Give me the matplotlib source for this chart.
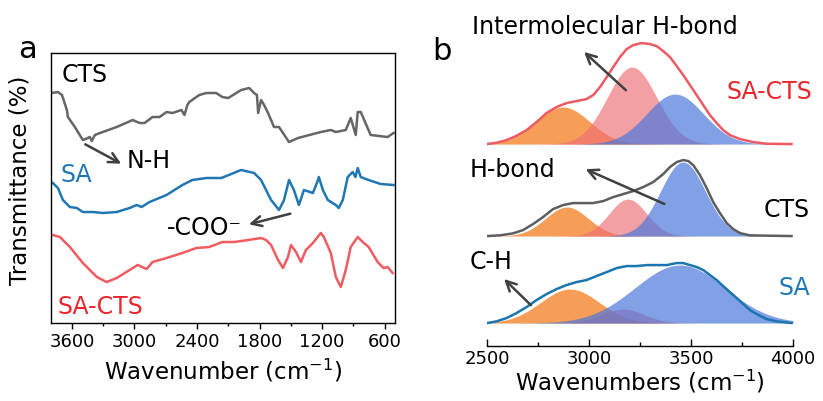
import matplotlib.pyplot as plt
import numpy as np
from matplotlib.ticker import MultipleLocator

plt.rcParams['font.family'] = ['DejaVu Sans']
plt.rcParams['mathtext.fontset'] = 'dejavusans'

# ---- panel a: FTIR spectra (wavenumber / transmittance, arbitrary units)
cts_wn = [3790, 3735, 3695, 3648, 3638, 3571, 3495, 3447, 3428, 3409,
          3380, 3330, 3170, 3017, 2950, 2903, 2826, 2759, 2692, 2635,
          2549, 2520, 2492, 2473, 2406, 2377, 2310, 2215, 2157, 2100,
          1976, 1899, 1852, 1825, 1813, 1785, 1756, 1718, 1661, 1613,
          1575, 1517, 1431, 1212, 1116, 1068, 973, 925, 877, 858,
          829, 734, 571, 514]
cts_t = [230, 231, 228, 213, 206, 196, 183, 185, 186, 182,
         188, 190, 196, 203, 200, 200, 206, 206, 211, 210,
         213, 208, 218, 221, 226, 228, 230, 230, 226, 225,
         233, 235, 230, 228, 210, 223, 218, 210, 196, 196,
         190, 181, 185, 191, 193, 191, 193, 205, 188, 211,
         211, 188, 186, 190]

sa_wn = [3782, 3734, 3686, 3619, 3552, 3495, 3399, 3304, 3170, 3046,
         2979, 2931, 2855, 2692, 2540, 2444, 2310, 2167, 1976, 1852,
         1785, 1737, 1689, 1613, 1565, 1517, 1470, 1422, 1374, 1288,
         1250, 1231, 1192, 1145, 1068, 1040, 1001, 954, 906, 880,
         858, 829, 753, 638, 514]
sa_t = [140, 135, 123, 116, 115, 111, 111, 110, 111, 115,
        118, 116, 121, 128, 138, 143, 145, 145, 153, 150,
        143, 133, 123, 113, 123, 143, 133, 118, 133, 130,
        140, 146, 133, 123, 118, 115, 123, 146, 151, 146,
        155, 146, 143, 139, 138]

sacts_wn = [3782, 3715, 3619, 3495, 3361, 3266, 3170, 3046, 2969, 2883,
            2826, 2692, 2540, 2406, 2282, 2157, 2043, 1909, 1785, 1737,
            1689, 1622, 1575, 1527, 1498, 1450, 1403, 1355, 1288, 1212,
            1183, 1116, 1068, 1020, 973, 925, 858, 810, 753, 667,
            610, 571, 523]
sacts_t = [88, 86, 76, 60, 46, 41, 45, 53, 58, 54,
           61, 65, 70, 75, 76, 81, 81, 83, 85, 83,
           78, 63, 55, 66, 78, 71, 61, 73, 80, 90,
           86, 70, 46, 36, 53, 76, 86, 81, 76, 61,
           55, 56, 50]

# ---- panel b: measured envelopes (height above each baseline)
b_sacts_wn = [2500, 2547, 2596, 2645, 2694, 2743, 2792, 2841, 2890, 2939,
              2988, 3021, 3054, 3087, 3119, 3152, 3185, 3217, 3258, 3299,
              3332, 3364, 3397, 3430, 3462, 3495, 3528, 3560, 3593, 3626,
              3658, 3691, 3740, 3805, 3871, 3993]
b_sacts_h = [0, 1.3, 4, 8.3, 14, 22, 31, 37, 41, 43,
             45, 49, 57, 67, 77, 87, 95, 99, 101, 100,
             98, 93, 87, 78, 69, 59, 49, 39, 29, 21,
             14, 9, 5, 2, 0.3, 0]
b_cts_wn = [2500, 2563, 2628, 2677, 2726, 2775, 2824, 2873, 2922, 2971,
            3021, 3070, 3119, 3168, 3217, 3266, 3315, 3364, 3397, 3430,
            3462, 3487, 3511, 3544, 3577, 3609, 3642, 3675, 3707, 3740,
            3789, 3993]
b_cts_h = [0, 0.7, 2.7, 6, 12, 19, 27, 31, 33, 33,
           33, 35, 39, 42, 45, 49, 54, 62, 69, 74,
           76, 75, 71, 61, 48, 34, 23, 13, 7, 3,
           0.7, 0]
b_sa_wn = [2500, 2547, 2596, 2645, 2694, 2743, 2792, 2841, 2890, 2939,
           2988, 3037, 3087, 3136, 3185, 3234, 3283, 3332, 3381, 3430,
           3462, 3495, 3528, 3560, 3593, 3626, 3658, 3691, 3724, 3756,
           3789, 3822, 3871, 3920, 3993]
b_sa_h = [0, 1.7, 5, 10, 16, 23, 29, 34, 38, 41,
          43, 47, 51, 55, 57, 57, 58, 58, 58, 60,
          60, 58, 56, 53, 48, 43, 37, 31, 25, 19,
          13, 9, 4, 1.7, 0]

# fitted gaussian components: centre, height, sigma  (C-H, H-bond, O-H/N-H)
fit_sacts = [(2873, 37, 131), (3211, 77, 121), (3422, 50, 139)]
fit_cts = [(2892, 29, 105), (3191, 37, 92), (3461, 74, 110)]
fit_sa = [(2907, 34, 144), (3167, 14, 104), (3446, 58, 221)]

base_sa, base_cts, base_sacts = 23, 110, 202

fig = plt.figure(figsize=(8.23, 4.01), dpi=100)

# ---------------- a
ax = fig.add_axes([0.062, 0.1945, 0.418, 0.6733])
ax.plot(cts_wn, cts_t, color='#666666', lw=1.8)
ax.plot(sa_wn, sa_t, color='#1f77b4', lw=1.8)
ax.plot(sacts_wn, sacts_t, color='#ee5c62', lw=1.8)
ax.set_xlim(3800, 500)
ax.set_ylim(0, 270)
ax.xaxis.set_major_locator(MultipleLocator(600))
ax.xaxis.set_minor_locator(MultipleLocator(300))
ax.tick_params(axis='x', which='both', direction='out', labelsize=13, width=1)
ax.tick_params(axis='x', which='major', length=4)
ax.tick_params(axis='x', which='minor', length=2.5)
ax.set_yticks([])
for s in ax.spines.values():
    s.set_linewidth(1)
ax.set_xlabel('Wavenumber (cm$^{-1}$)', fontsize=16.5, labelpad=4)
ax.set_ylabel('Transmittance (%)', fontsize=16.5)
ax.yaxis.set_label_coords(-0.058, 0.53)

ax.text(3696, 248, 'CTS', color='black', fontsize=17, va='center')
ax.text(3705, 148, 'SA', color='#1f78b4', fontsize=17, va='center')
ax.text(3734, 16, 'SA-CTS', color='#e8262c', fontsize=17, va='center')
arr = dict(arrowstyle='->', color='#404040', lw=1.8, mutation_scale=18)
ax.annotate('', xy=(3103, 158), xytext=(3495, 180), arrowprops=arr)
ax.text(3075, 162, 'N-H', fontsize=17, va='center')
ax.annotate('', xy=(1928, 98), xytext=(1479, 110), arrowprops=arr)
ax.text(2692, 95, '-COO\u207b', fontsize=17, va='center')

# ---------------- b
bx = fig.add_axes([0.5917, 0.137, 0.3718, 0.788])
x = np.linspace(2500, 4000, 600)
fills = [('#f47e20', 0.75), ('#ee6e75', 0.65), ('#4c78dc', 0.7)]


def gauss(c, h, s):
    return h * np.exp(-(x - c) ** 2 / (2 * s ** 2))


for base, fit in [(base_sacts, fit_sacts), (base_cts, fit_cts), (base_sa, fit_sa)]:
    for (c, h, s), (col, al) in zip(fit, fills):
        bx.fill_between(x, base, base + gauss(c, h, s), color=col, alpha=al, lw=0)

bx.plot(b_sacts_wn, np.array(b_sacts_h) + base_sacts, color='#ec5a63', lw=1.8)
bx.plot(b_cts_wn, np.array(b_cts_h) + base_cts, color='#5e5e5e', lw=1.8)
bx.plot(b_sa_wn, np.array(b_sa_h) + base_sa, color='#1b75ae', lw=1.8)

bx.set_xlim(2500, 4000)
bx.set_ylim(0, 316)
for k in ['left', 'right', 'top']:
    bx.spines[k].set_visible(False)
bx.spines['bottom'].set_linewidth(1)
bx.set_yticks([])
bx.xaxis.set_major_locator(MultipleLocator(500))
bx.xaxis.set_minor_locator(MultipleLocator(250))
bx.tick_params(axis='x', which='both', direction='in', labelsize=13, width=1, pad=3)
bx.tick_params(axis='x', which='major', length=5)
bx.tick_params(axis='x', which='minor', length=3)
bx.set_xlabel('Wavenumbers (cm$^{-1}$)', fontsize=16.5, labelpad=0)

bx.text(2426, 319, 'Intermolecular H-bond', fontsize=17, va='center')
bx.text(4093, 254, 'SA-CTS', color='#e8262c', fontsize=17, va='center', ha='right')
bx.text(4083, 136, 'CTS', color='black', fontsize=17, va='center', ha='right')
bx.text(4083, 58, 'SA', color='#1f78b4', fontsize=17, va='center', ha='right')
bx.text(2417, 176, 'H-bond', fontsize=17, va='center')
bx.text(2417, 84, 'C-H', fontsize=17, va='center')
bx.annotate('', xy=(2966, 296), xytext=(3191, 254), arrowprops=arr)
bx.annotate('', xy=(2971, 178), xytext=(3382, 141), arrowprops=arr)
bx.annotate('', xy=(2574, 69), xytext=(2725, 39), arrowprops=arr)

fig.text(27 / 823, 1 - 50 / 401, 'a', fontsize=22, ha='center', va='center')
fig.text(442 / 823, 1 - 52 / 401, 'b', fontsize=22, ha='center', va='center')

fig.savefig('out.png', dpi=100)
